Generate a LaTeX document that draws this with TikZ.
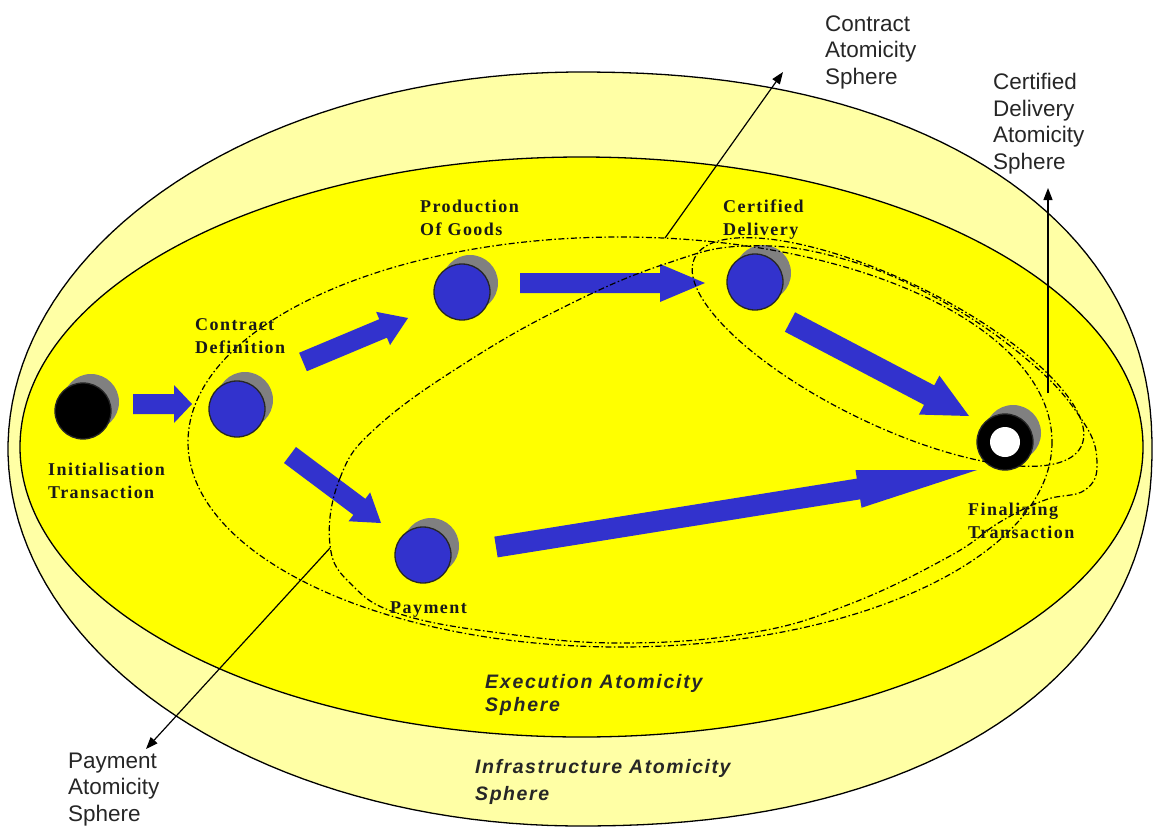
\documentclass[tikz,border=0pt]{standalone}
\usepackage{fontspec}
\setmainfont{Liberation Serif}
\setsansfont{Liberation Sans}
\usetikzlibrary{calc,shadows,arrows.meta}
\definecolor{lyel}{RGB}{255,255,165}
\definecolor{byel}{RGB}{255,255,0}
\definecolor{ablue}{RGB}{50,50,205}
\definecolor{shgray}{RGB}{128,128,128}
\newcommand\blockarrow[5]{%
  \coordinate (hb) at ($(#2)!#5!(#1)$);
  \fill[ablue] ($(#1)!#3!90:(#2)$) -- ($(hb)!#3!90:(#2)$) -- ($(hb)!#4!90:(#2)$) -- (#2)
    -- ($(hb)!#4!-90:(#2)$) -- ($(hb)!#3!-90:(#2)$) -- ($(#1)!#3!-90:(#2)$) -- cycle;
}
\tikzset{
  rim/.style={draw=black, line width=1.3pt},
  sphdash/.style={draw=black, line width=1.2pt, dash pattern=on 6pt off 2.5pt on 1.5pt off 2.5pt},
  txnode/.style={circle, minimum size=56pt, inner sep=0pt, draw=black!85, line width=1.3pt,
    drop shadow={shadow xshift=8pt, shadow yshift=9pt, fill=shgray, opacity=1}},
  bluetx/.style={txnode, fill=ablue},
  blacktx/.style={txnode, fill=black},
  holetx/.style={circle, minimum size=30pt, inner sep=0pt, fill=white},
  txlbl/.style={font=\bfseries\fontsize{18}{23}\selectfont\addfontfeature{LetterSpace=8}, align=left, anchor=base west, inner sep=0pt, text=black!90},
  sphlbl/.style={font=\sffamily\fontsize{22.5}{26.5}\selectfont, align=left, anchor=base west, inner sep=0pt, text=black!85},
  execlbl/.style={font=\sffamily\bfseries\itshape\fontsize{19.5}{23}\selectfont\addfontfeature{LetterSpace=9}, align=left, anchor=base west, inner sep=0pt, text=black!85},
  infralbl/.style={font=\sffamily\bfseries\itshape\fontsize{19.5}{26.5}\selectfont\addfontfeature{LetterSpace=8}, align=left, anchor=base west, inner sep=0pt, text=black!85},
  pointer/.style={draw=black, line width=1.2pt, -{Triangle[length=12pt,width=9pt]}}
}
\begin{document}
\begin{tikzpicture}[x=1pt, y=-1pt]
\useasboundingbox (0,0) rectangle (1153,827);
% infrastructure sphere
\filldraw[rim, fill=lyel] plot[variable=\t, domain=1:359, samples=180]
  ({580 + 572*cos(\t)*pow(abs(cos(\t)), 2/(cos(\t)>0 ? 2.2 : 2) - 1)},
   {449 - 377*sin(\t)*pow(abs(sin(\t)), 2/(cos(\t)>0 ? 2.2 : 2) - 1)}) -- cycle;
% execution sphere
\filldraw[rim, fill=byel] (581.5,447) ellipse (561.5 and 290);
% block arrows
\coordinate (a1t) at (133,404); \coordinate (a1h) at (192,404);
\coordinate (a2t) at (303,362); \coordinate (a2h) at (408,318);
\coordinate (a3t) at (290,455); \coordinate (a3h) at (381,523);
\coordinate (a4t) at (520,283); \coordinate (a4h) at (705,283);
\coordinate (a5t) at (790,322); \coordinate (a5h) at (969,416);
\coordinate (a6t) at (496,547); \coordinate (a6h) at (977,470);
\blockarrow{a1t}{a1h}{10pt}{19pt}{18pt}
\blockarrow{a2t}{a2h}{10pt}{18pt}{27pt}
\blockarrow{a3t}{a3h}{10pt}{18pt}{27pt}
\blockarrow{a4t}{a4h}{10pt}{19pt}{45pt}
\blockarrow{a5t}{a5h}{11pt}{22pt}{45pt}
\blockarrow{a6t}{a6h}{10.5pt}{19pt}{120pt}
% transactions
\node[blacktx] (init) at (83,411) {};
\node[bluetx] (cdef) at (237,409) {};
\node[bluetx] (prod) at (462,292) {};
\node[bluetx] (cert) at (755,282) {};
\node[bluetx] (pay) at (423,555) {};
\node[blacktx] (fin) at (1005,442) {};
\node[holetx] (finhole) at (fin.center) {};
% dashed atomicity spheres
\draw[sphdash] (620,442) ellipse (432 and 205);
\draw[sphdash, rotate around={-26:(888,352)}] (888,352) ellipse (215 and 72);
\draw[sphdash] plot[smooth cycle, tension=0.7] coordinates {
  (330,545) (340,478) (378,426) (470,360) (570,304) (665,264) (745,246) (840,258)
  (940,300) (1030,362) (1082,420) (1097,462) (1085,490) (1045,500) (1000,522)
  (950,556) (850,604) (750,633) (620,643) (500,633) (400,614) (352,585)};
% labels of transactions (anchor = baseline of the last line)
\node[txlbl] (initl) at (48,498) {Initialisation\\Transaction};
\node[txlbl] (cdefl) at (195,353) {Contract\\Definition};
\node[txlbl] (prodl) at (420,235) {Production\\Of Goods};
\node[txlbl] (certl) at (723,235) {Certified\\Delivery};
\node[txlbl] (finl) at (968,538) {Finalizing\\Transaction};
\node[txlbl] (payl) at (390,613) {Payment};
% sphere labels
\node[sphlbl] (csph) at (825,84) {Contract\\Atomicity\\Sphere};
\node[sphlbl] (cdsph) at (993,169) {Certified\\Delivery\\Atomicity\\Sphere};
\node[sphlbl] (psph) at (68,821) {Payment\\Atomicity\\Sphere};
\node[execlbl] (esph) at (485,711) {Execution Atomicity\\Sphere};
\node[infralbl] (isph) at (475,800) {Infrastructure Atomicity\\Sphere};
% pointers
\coordinate (cps) at (665,238); \coordinate (cpe) at (783,72);
\coordinate (dps) at (1048,393); \coordinate (dpe) at (1048,188);
\coordinate (pps) at (330,548); \coordinate (ppe) at (146,749);
\draw[pointer] (cps) -- (cpe);
\draw[pointer] (dps) -- (dpe);
\draw[pointer] (pps) -- (ppe);
\end{tikzpicture}
\end{document}
